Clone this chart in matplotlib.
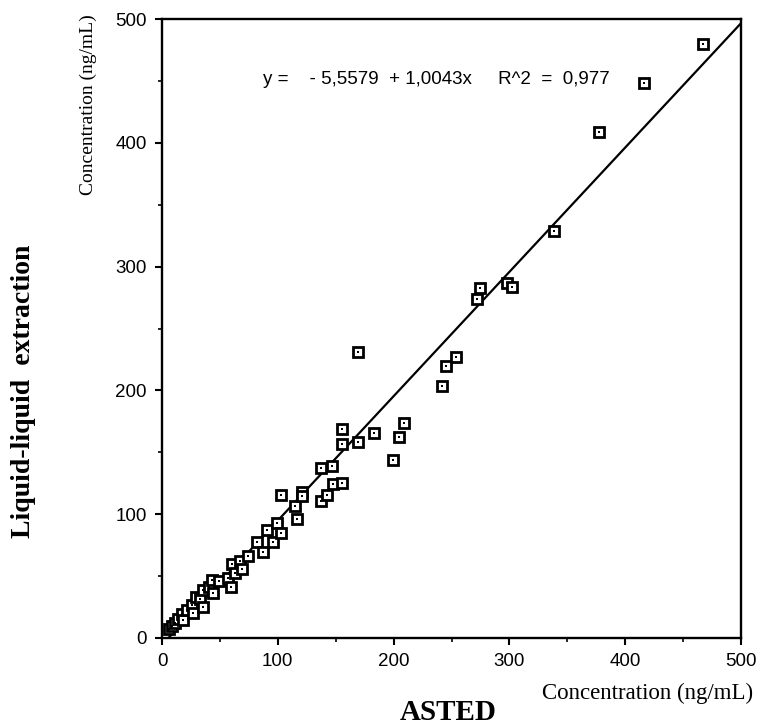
import numpy as np
import matplotlib.pyplot as plt

# ASTED (x) vs liquid-liquid extraction (y), ng/mL
asted = [6.3, 8.4, 11.2, 14.1, 16.9, 18.4, 21.8, 25.6, 27.0, 29.4,
         32.8, 35.1, 35.1, 40.8, 42.8, 44.3, 49.0, 57.3, 59.3, 60.3,
         63.0, 67.4, 68.8, 74.5, 81.8, 87.0, 90.4, 95.6, 99.0, 102.8,
         102.8, 114.9, 116.8, 120.6, 121.3, 137.3, 137.3, 142.7, 146.5, 147.9,
         155.4, 155.4, 155.7, 169.0, 169.0, 183.4, 199.2, 204.7, 209.3, 241.5,
         245.3, 253.9, 271.6, 274.6, 297.6, 302.0, 338.8, 377.4, 416.5, 466.9]
lle = [7.0, 9.7, 12.4, 15.1, 19.4, 14.5, 22.6, 26.7, 20.0, 32.9,
       31.3, 38.8, 24.8, 41.4, 46.8, 36.1, 46.3, 48.2, 41.4, 59.8,
       52.7, 62.4, 55.5, 66.2, 77.8, 69.2, 87.2, 77.8, 93.1, 115.5,
       84.6, 106.9, 95.9, 117.9, 114.7, 137.1, 110.7, 115.8, 138.9, 124.2,
       168.8, 156.7, 125.4, 158.6, 231.3, 165.3, 143.5, 162.1, 173.4, 203.6,
       220.0, 226.7, 273.7, 283.1, 286.5, 283.3, 329.0, 408.5, 448.0, 479.8]

intercept = -5.5579
slope = 1.0043
r2 = 0.977

serif = 'Liberation Serif'
sans = 'Liberation Sans'

fig = plt.figure(figsize=(7.63, 7.27), dpi=100)
ax = fig.add_axes([162 / 763, 1 - 638 / 727, 579 / 763, 619 / 727])

# regression line, starting where it crosses y = 0
x0 = -intercept / slope
xl = np.array([x0, 500])
ax.plot(xl, intercept + slope * xl, color='black', lw=1.6, zorder=2)

ax.plot(asted, lle, 's', ms=6.5, mfc='white', mec='black', mew=2.0, zorder=3)
ax.plot(asted, lle, 's', ms=1.5, mfc='black', mec='black', mew=0, zorder=4)

ax.set_xlim(0, 500)
ax.set_ylim(0, 500)
ax.set_xticks(np.arange(0, 501, 100))
ax.set_yticks(np.arange(0, 501, 100))
ax.set_xticks(np.arange(50, 500, 100), minor=True)
ax.set_yticks(np.arange(50, 500, 100), minor=True)
ax.tick_params(which='major', direction='out', length=5, width=1.5, pad=6,
               labelsize=13.5)
ax.tick_params(which='minor', direction='out', length=3, width=1.2)
for lab in ax.get_xticklabels() + ax.get_yticklabels():
    lab.set_fontfamily(sans)
for s in ax.spines.values():
    s.set_linewidth(1.7)

eq = f"y =    - {-intercept:.4f}  + {slope:.4f}x     R^2  =  {r2:.3f}".replace('.', ',')
ax.text(87, 451, eq, fontsize=13.5, family=sans, va='center', ha='left')

fig.text(753 / 763, 1 - 693 / 727, 'Concentration (ng/mL)', family=serif,
         fontsize=16.5, ha='right', va='center')
fig.text(88 / 763, 1 - 14 / 727, 'Concentration (ng/mL)', family=serif,
         fontsize=14, ha='center', va='top', rotation=90)
fig.text(448 / 763, 1 - 712 / 727, 'ASTED', family=serif, fontweight='bold',
         fontsize=21, ha='center', va='center')
fig.text(24 / 763, 1 - 391 / 727, 'Liquid-liquid  extraction', family=serif,
         fontweight='bold', fontsize=20, ha='center', va='center', rotation=90)

fig.savefig('out.png', dpi=100)
